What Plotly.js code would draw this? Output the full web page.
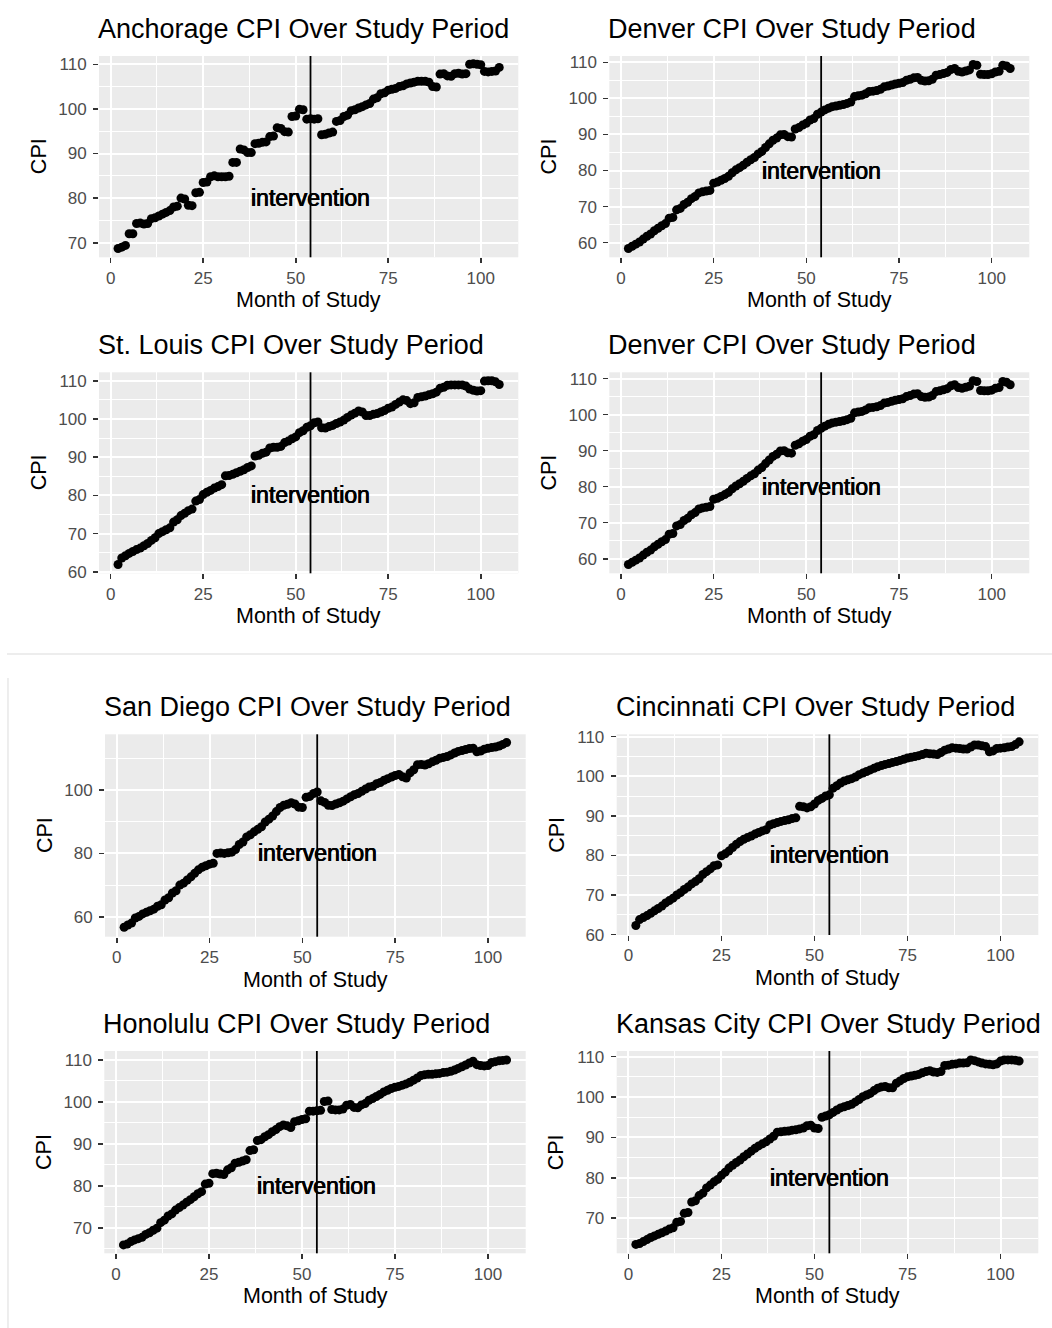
<!DOCTYPE html>
<html><head><meta charset="utf-8">
<script src="https://cdn.plot.ly/plotly-3.0.1.min.js"></script>
<style>html,body{margin:0;padding:0;background:#fff;} #chart{width:1052px;height:1328px;}</style>
</head><body><div id="chart"></div>
<script>
// ---------------- DATA ----------------
const months = [2,3,4,5,6,7,8,9,10,11,12,13,14,15,16,17,18,19,20,21,22,23,24,25,26,27,28,29,30,31,32,33,34,35,36,37,38,39,40,41,42,43,44,45,46,47,48,49,50,51,52,53,54,55,56,57,58,59,60,61,62,63,64,65,66,67,68,69,70,71,72,73,74,75,76,77,78,79,80,81,82,83,84,85,86,87,88,89,90,91,92,93,94,95,96,97,98,99,100,101,102,103,104,105];

const anchorageCPI = [68.7,69.0,69.4,72.0,72.0,74.3,74.4,74.2,74.3,75.4,
 75.6,76.0,76.4,76.8,77.2,78.0,78.2,80.0,79.8,78.4,
 78.3,81.2,81.3,83.5,83.6,84.8,85.0,84.8,84.8,84.8,
 84.9,88.0,88.0,91.0,90.8,90.2,90.2,92.2,92.3,92.5,
 92.6,93.8,93.9,95.8,95.6,94.9,94.8,98.3,98.4,99.9,
 99.8,97.7,97.8,97.7,97.8,94.2,94.3,94.6,94.8,97.2,
 97.4,98.3,98.6,99.6,99.8,100.2,100.5,100.9,101.2,102.2,
 102.5,103.4,103.6,104.2,104.4,104.6,105.0,105.2,105.6,105.8,
 106.0,106.2,106.2,106.2,106.0,105.0,104.9,107.8,107.9,107.4,
 107.3,107.9,108.0,107.8,107.9,110.0,110.1,110.0,109.9,108.4,
 108.3,108.4,108.5,109.3];

const denverCPI = [58.4,59.0,59.6,60.2,61.0,61.8,62.4,63.3,64.0,64.7,
 65.3,66.8,67.0,69.1,69.5,70.6,71.2,72.2,72.8,73.8,
 74.1,74.3,74.5,76.5,76.8,77.3,77.8,78.4,79.4,80.2,
 80.8,81.5,82.3,83.0,83.6,84.6,85.3,86.4,87.4,88.4,
 89.0,89.9,90.0,89.4,89.3,91.5,91.9,92.6,93.1,94.0,
 94.4,95.6,96.2,96.8,97.3,97.7,97.9,98.1,98.3,98.6,
 99.0,100.5,100.7,100.9,101.3,101.9,102.0,102.2,102.5,103.2,
 103.4,103.7,104.0,104.2,104.4,105.0,105.3,105.7,105.8,105.0,
 104.8,104.9,105.3,106.4,106.6,106.9,107.2,108.0,108.3,107.5,
 107.3,107.6,107.9,109.4,109.2,106.7,106.6,106.6,106.8,107.3,
 107.5,109.2,109.0,108.3];

const stLouisCPI = [61.9,63.6,64.2,64.8,65.3,65.8,66.2,66.8,67.4,68.2,
 68.9,70.0,70.5,71.0,71.5,73.0,73.6,74.7,75.3,76.0,
 76.4,78.5,78.9,80.2,80.8,81.3,81.9,82.3,82.8,85.1,
 85.2,85.5,85.9,86.3,86.7,87.3,87.7,90.3,90.5,91.0,
 91.3,92.4,92.6,92.6,92.8,93.8,94.2,94.8,95.3,96.4,
 96.9,97.8,98.2,99.0,99.2,97.7,97.6,98.0,98.3,98.8,
 99.2,99.7,100.4,101.0,101.5,102.1,101.8,100.9,100.9,101.2,
 101.4,101.8,102.2,102.8,103.1,103.8,104.4,105.0,104.8,104.0,
 104.2,105.6,105.8,106.0,106.3,106.6,107.0,108.0,108.3,108.8,
 108.9,108.9,108.9,108.9,108.6,107.8,107.5,107.3,107.4,109.9,
 110.0,110.0,109.7,109.0];

const sanDiegoCPI = [56.7,57.4,58.0,59.6,60.1,60.9,61.4,61.9,62.4,63.3,
 63.8,65.3,66.0,67.5,68.2,70.0,70.6,71.6,72.6,73.7,
 74.8,75.6,76.1,76.6,76.9,80.0,80.1,80.0,80.2,80.4,
 81.2,82.8,83.6,85.2,85.9,86.8,87.6,88.4,89.9,90.8,
 91.8,93.2,94.5,95.2,95.5,96.0,95.6,94.6,94.5,97.7,
 98.0,98.9,99.4,96.6,96.1,95.2,95.1,95.6,96.0,96.5,
 97.2,97.9,98.5,98.9,99.6,100.3,101.0,101.2,102.0,102.4,
 103.1,103.6,104.1,104.6,104.9,104.2,103.8,105.4,106.4,108.0,
 108.1,107.9,108.3,108.9,109.4,110.0,110.3,110.6,111.1,111.7,
 112.2,112.5,112.8,113.1,113.2,112.1,112.3,112.9,113.2,113.4,
 113.6,113.9,114.4,115.0];

const cincinnatiCPI = [62.3,63.8,64.3,64.8,65.4,66.0,66.6,67.2,68.0,68.6,
 69.2,70.0,70.6,71.4,72.0,72.8,73.4,74.1,75.2,75.9,
 76.6,77.4,77.6,79.9,80.4,81.1,82.0,82.8,83.5,84.1,
 84.5,84.9,85.4,85.8,86.2,86.5,87.7,88.0,88.3,88.6,
 88.8,89.0,89.3,89.5,92.4,92.3,92.0,92.3,93.0,93.9,
 94.4,95.0,95.3,97.0,97.6,98.3,98.8,99.1,99.4,99.8,
 100.4,100.8,101.2,101.6,102.0,102.4,102.7,103.0,103.2,103.5,
 103.7,104.0,104.3,104.6,104.8,105.0,105.2,105.5,105.8,105.7,
 105.6,105.5,106.0,106.6,106.9,107.2,107.1,107.0,106.9,106.9,
 107.4,107.9,107.9,107.7,107.5,106.2,106.4,107.0,107.1,107.2,
 107.4,107.5,108.0,108.7];

const honoluluCPI = [65.9,66.1,66.7,67.1,67.4,67.7,68.4,68.8,69.4,69.9,
 71.2,71.8,72.8,73.3,74.2,74.8,75.4,76.1,76.7,77.4,
 78.1,78.6,80.4,80.6,82.9,83.0,82.8,82.7,83.8,84.3,
 85.4,85.6,85.9,86.2,88.4,88.6,90.8,91.0,91.7,92.2,
 92.9,93.4,94.1,94.5,94.3,93.9,95.3,95.5,95.8,96.0,
 97.8,97.8,97.9,98.0,100.1,100.2,98.2,98.1,98.1,98.3,
 99.2,99.4,98.7,98.6,99.3,99.6,100.4,100.8,101.3,101.8,
 102.4,102.8,103.2,103.5,103.7,104.0,104.3,104.7,105.2,105.7,
 106.3,106.5,106.6,106.6,106.7,106.8,107.0,107.1,107.3,107.6,
 108.0,108.4,108.8,109.3,109.7,108.9,108.7,108.6,108.7,109.4,
 109.6,109.8,109.9,110.0];

const kansasCityCPI = [63.5,63.7,64.2,64.7,65.2,65.6,66.0,66.4,66.8,67.3,
 67.6,69.0,69.2,71.2,71.4,74.0,74.3,75.6,76.2,77.5,
 78.2,79.0,79.6,80.6,81.4,82.4,83.1,83.8,84.4,85.2,
 85.9,86.6,87.3,87.9,88.4,88.9,89.6,90.3,91.3,91.4,
 91.5,91.6,91.8,91.9,92.1,92.3,92.9,93.0,92.3,92.2,
 95.0,95.3,95.6,96.2,96.8,97.3,97.6,97.9,98.2,98.8,
 99.4,100.1,100.5,100.9,101.6,102.2,102.5,102.6,102.3,102.3,
 103.4,104.0,104.6,105.0,105.2,105.4,105.6,106.0,106.3,106.5,
 106.2,106.1,106.3,107.8,107.9,108.1,108.2,108.4,108.4,108.5,
 109.2,109.0,108.7,108.4,108.2,108.1,108.0,108.2,108.9,109.2,
 109.2,109.2,109.1,108.9];

const panelTitles = ['Anchorage CPI Over Study Period','Denver CPI Over Study Period',
 'St. Louis CPI Over Study Period','Denver CPI Over Study Period',
 'San Diego CPI Over Study Period','Cincinnati CPI Over Study Period',
 'Honolulu CPI Over Study Period','Kansas City CPI Over Study Period'];
const panelSeries = [anchorageCPI, denverCPI, stLouisCPI, denverCPI, sanDiegoCPI, cincinnatiCPI, honoluluCPI, kansasCityCPI];
const xTickVals = [0,25,50,75,100];
const interventionMonth = 54;
const interventionLabelY = 80;
const xAxisLabel = 'Month of Study';
const yAxisLabel = 'CPI';
const interventionLabel = 'intervention';

// ---------------- LAYOUT (positions in px) ----------------
const W = 1052, H = 1328;
const FONT = 'Liberation Sans, Arial, Helvetica, sans-serif';
// [left, right, top, bottom] plot-panel boxes
const boxes = [
 [99,518.3,56,257.3],[609.3,1029.3,56,257.3],
 [99,518.3,372.3,573.3],[609.3,1029.3,372.3,573.3],
 [105,525.7,734.3,936.7],[616.7,1038.3,734.3,935],
 [104.3,525.7,1051,1253.3],[616.7,1038.3,1051,1253.3]];
const yRanges = [[66.73,111.86],[55.95,111.75],[59.6,112.2],[55.95,111.75],
 [53.7,117.6],[59.9,110.6],[63.9,112.15],[61.3,111.4]];
const yDticks = [10,10,10,10,20,10,10,10];
const xRange = [-3.15,110.15];

const traces = [];
const layout = {
  width: W, height: H,
  margin: {l:0,r:0,t:0,b:0,pad:0},
  paper_bgcolor: '#ffffff',
  plot_bgcolor: '#EBEBEB',
  showlegend: false,
  font: {family: FONT, color: '#000'},
  annotations: [],
  shapes: []
};

panelSeries.forEach((series, i) => {
  const n = i + 1;
  const sfx = n === 1 ? '' : String(n);
  const [l, r, t, b] = boxes[i];
  traces.push({
    type: 'scatter', mode: 'markers',
    x: months, y: series,
    xaxis: 'x' + sfx, yaxis: 'y' + sfx,
    marker: {color: '#000000', size: 9, line: {width: 0}},
    hoverinfo: 'x+y'
  });
  const grid = {showgrid: true, gridcolor: '#FFFFFF', gridwidth: 2, zeroline: false, showline: false,
    ticks: 'outside', ticklen: 5, tickwidth: 1.6, tickcolor: '#333333',
    tickfont: {family: FONT, size: 17, color: '#4D4D4D'}, fixedrange: true};
  layout['xaxis' + sfx] = Object.assign({}, grid, {
    domain: [l / W, r / W], anchor: 'y' + sfx, range: xRange,
    tickmode: 'array', tickvals: xTickVals,
    minor: {tick0: 12.5, dtick: 25, showgrid: true, gridcolor: '#FFFFFF', gridwidth: 1, ticks: ''}
  });
  const dt = yDticks[i];
  layout['yaxis' + sfx] = Object.assign({}, grid, {
    domain: [1 - b / H, 1 - t / H], anchor: 'x' + sfx, range: yRanges[i],
    tickmode: 'linear', tick0: 0, dtick: dt, ticklabelstandoff: 3,
    minor: {tick0: dt / 2, dtick: dt, showgrid: true, gridcolor: '#FFFFFF', gridwidth: 1, ticks: ''}
  });
  // intervention line
  layout.shapes.push({type: 'line', xref: 'x' + sfx, yref: 'y' + sfx + ' domain',
    x0: interventionMonth, x1: interventionMonth, y0: 0, y1: 1,
    line: {color: '#000000', width: 1.8}, layer: 'above'});
  // intervention label
  layout.annotations.push({xref: 'x' + sfx, yref: 'y' + sfx, x: interventionMonth, y: interventionLabelY,
    text: interventionLabel, showarrow: false, xanchor: 'center', yanchor: 'middle',
    font: {family: FONT, size: 23, color: '#000', shadow: '0.5px 0 0 #000, -0.4px 0 0 #000'}});
  // panel title (left-aligned with panel)
  layout.annotations.push({xref: 'paper', yref: 'paper', x: (l - 3) / W, y: 1 - (t - 27.3) / H,
    text: panelTitles[i], showarrow: false, xanchor: 'left', yanchor: 'middle',
    font: {family: FONT, size: 27, color: '#000'}});
  // x axis title
  layout.annotations.push({xref: 'paper', yref: 'paper', x: ((l + r) / 2) / W, y: 1 - (b + 43) / H,
    text: xAxisLabel, showarrow: false, xanchor: 'center', yanchor: 'middle',
    font: {family: FONT, size: 21.5, color: '#000'}});
  // y axis title
  layout.annotations.push({xref: 'paper', yref: 'paper', x: (l - 60.5) / W, y: 1 - ((t + b) / 2) / H,
    text: yAxisLabel, showarrow: false, xanchor: 'center', yanchor: 'middle', textangle: -90,
    font: {family: FONT, size: 21.5, color: '#000'}});
});

// separator between the two figure groups
layout.shapes.push({type: 'line', xref: 'paper', yref: 'paper', x0: 7 / W, x1: 1, y0: 1 - 654 / H, y1: 1 - 654 / H,
  line: {color: '#DCDCDC', width: 1.2}, layer: 'below'});
layout.shapes.push({type: 'line', xref: 'paper', yref: 'paper', x0: 8 / W, x1: 8 / W, y0: 0, y1: 1 - 678 / H,
  line: {color: '#E2E2E2', width: 1.2}, layer: 'below'});

Plotly.newPlot('chart', traces, layout, {displayModeBar: false, staticPlot: true});
</script>
</body></html>
